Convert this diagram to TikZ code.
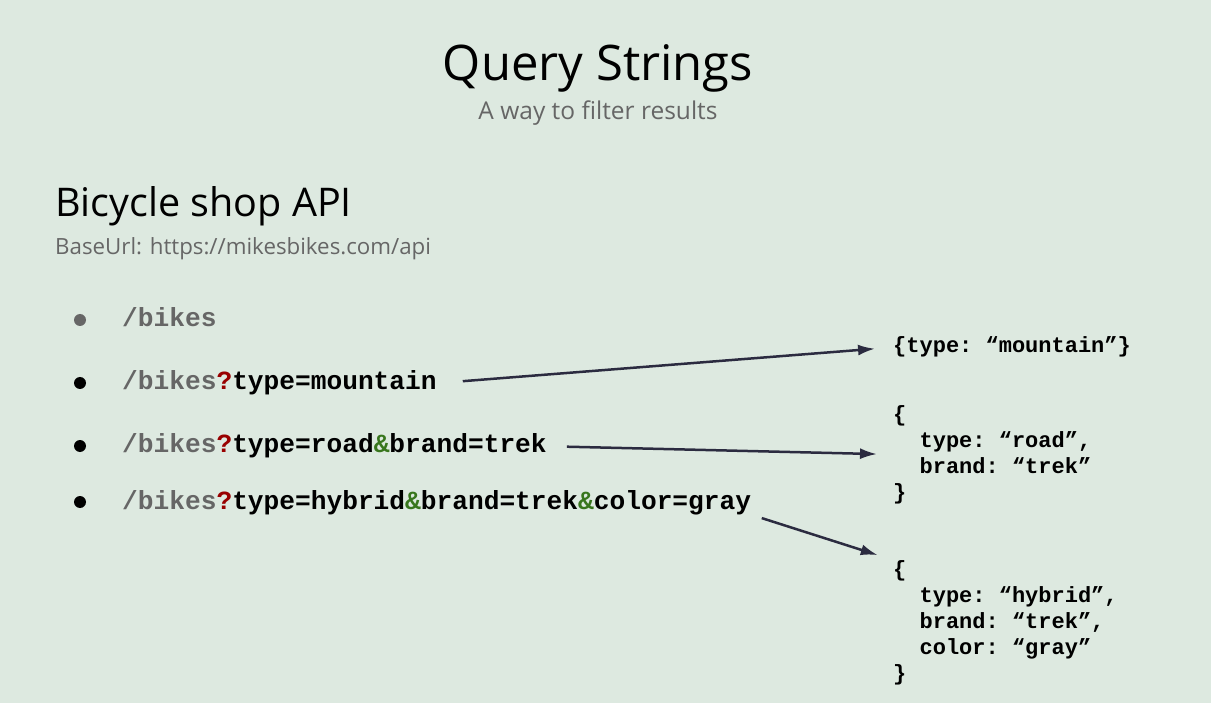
\documentclass[tikz,border=0pt]{standalone}
\usepackage{fontspec}
\setmainfont{Open Sans}
\setmonofont{Liberation Mono}
\usetikzlibrary{arrows.meta}
\definecolor{slidebg}{HTML}{DDE9E0}
\definecolor{pathgray}{HTML}{666666}
\definecolor{qmarkred}{HTML}{990000}
\definecolor{ampgreen}{HTML}{38761D}
\definecolor{arrowink}{HTML}{2B2B40}
\newcommand{\qmark}{\textcolor{qmarkred}{?}}
\newcommand{\ampmark}{\textcolor{ampgreen}{\&}}
\newcommand{\bikespath}{\textcolor{pathgray}{/bikes}}
\begin{document}
\begin{tikzpicture}[x=1pt,y=-1pt]
			\tikzstyle{item}=[anchor=base west,inner sep=0,font=\fontsize{26.2}{30}\selectfont\ttfamily\bfseries]
			\tikzstyle{dot}=[circle,fill=black,inner sep=0,minimum size=12]
			\tikzset{
				result/.style={anchor=north west,inner sep=0,align=left,font=\fontsize{22}{26}\selectfont\ttfamily\bfseries},
				link/.style={draw=arrowink,line width=2.5,-{Latex[length=17,width=11]}}
			}
			\fill[slidebg] (0,0) rectangle (1211,703);
			\useasboundingbox (0,0) rectangle (1211,703);
			% headings
			\node(title)[anchor=base,inner sep=0,font=\fontsize{49}{56}\selectfont] at (598,81) {Query Strings};
			\node(sub)[anchor=base,inner sep=0,text=pathgray,font=\fontsize{24.5}{28}\selectfont] at (598,120) {A way to filter results};
			\node(api)[anchor=base west,inner sep=0,font=\fontsize{39.5}{44}\selectfont] at (55,217) {Bicycle shop API};
			\node(base)[anchor=base west,inner sep=0,text=pathgray,font=\fontsize{22.3}{26}\selectfont] at (55,255) {BaseUrl: https://mikesbikes.com/api};
			% endpoints
			\node(d1)[dot,fill=pathgray] at (80,320) {};
			\node(d2)[dot] at (80,383) {};
			\node(d3)[dot] at (80,446) {};
			\node(d4)[dot] at (80,502) {};
			\node(q1)[item] at (122,327) {\bikespath};
			\node(q2)[item] at (122,390) {\bikespath\qmark type=mountain};
			\node(q3)[item] at (122,453) {\bikespath\qmark type=road\ampmark brand=trek};
			\node(q4)[item] at (122,509) {\bikespath\qmark type=hybrid\ampmark brand=trek\ampmark color=gray};
			% parsed objects
			\node(r1)[result,anchor=base west] at (893,353) {\{type: “mountain”\}};
			\node(r2)[result] at (893,405) {\{\\
				\ \ type: “road”,\\
				\ \ brand: “trek”\\
				\}};
			\node(r3)[result] at (893,560) {\{\\
				\ \ type: “hybrid”,\\
				\ \ brand: “trek”,\\
				\ \ color: “gray”\\
				\}};
			\draw[link,shorten <=26,shorten >=18] (q2.east) -- (r1.west);
			\draw[link,shorten <=20,shorten >=16] (q3.east) -- (r2.west);
			\draw[link,shorten <=11,shorten >=16] (q4.south east) -- (r3.north west);
		\end{tikzpicture}
\end{document}
